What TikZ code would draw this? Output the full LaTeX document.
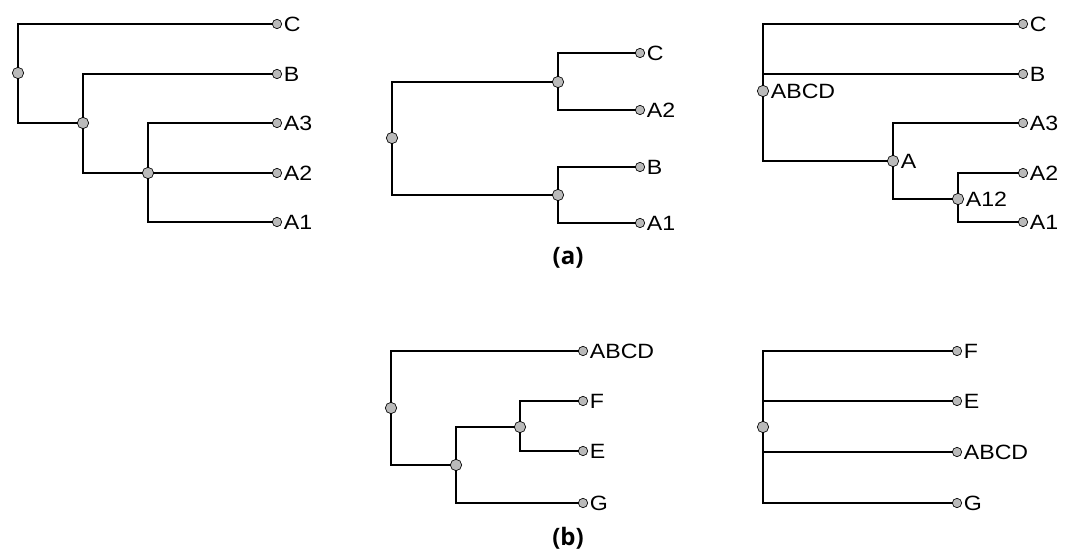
\documentclass[tikz,border=0pt]{standalone}
\usepackage{fontspec}
\setmainfont[FakeStretch=1.12]{Liberation Sans}
\newfontfamily\capfont{Open Sans}
\begin{document}
\begin{tikzpicture}[x=0.75pt,y=-0.75pt,
  every node/.style={font=\fontsize{15.5pt}{17pt}\selectfont},
  innode/.style={circle,draw=black,line width=0.5pt,fill=black!27,minimum size=8.5pt,inner sep=0pt},
  leafnode/.style={circle,draw=black,line width=0.5pt,fill=black!27,minimum size=7pt,inner sep=0pt},
  lab/.style={label={[inner sep=1.2pt,label distance=0pt]right:#1}},
  branch/.style={line width=1.5pt,line cap=rect},
  subcap/.style={font=\capfont\bfseries\fontsize{18pt}{20pt}\selectfont}]
\useasboundingbox (0,0) rectangle (1073,552);
% ---------- tree 1 ----------
\node[leafnode,lab=C] (a1C) at (277,24) {};
\node[leafnode,lab=B] (a1B) at (277,74) {};
\node[leafnode,lab=A3] (a1A3) at (277,123) {};
\node[leafnode,lab=A2] (a1A2) at (277,173) {};
\node[leafnode,lab=A1] (a1A1) at (277,222) {};
\node[innode] (a1r) at (18,73) {};
\node[innode] (a1n2) at (83,123) {};
\node[innode] (a1n3) at (148,173) {};
\draw[branch] (a1r) |- (a1C);
\draw[branch] (a1r) |- (a1n2);
\draw[branch] (a1n2) |- (a1B);
\draw[branch] (a1n2) |- (a1n3);
\draw[branch] (a1n3) |- (a1A3);
\draw[branch] (a1n3) -- (a1A2);
\draw[branch] (a1n3) |- (a1A1);
% ---------- tree 2 ----------
\node[leafnode,lab=C] (a2C) at (640,53) {};
\node[leafnode,lab=A2] (a2A2) at (640,110) {};
\node[leafnode,lab=B] (a2B) at (640,167) {};
\node[leafnode,lab=A1] (a2A1) at (640,223) {};
\node[innode] (a2r) at (392,138) {};
\node[innode] (a2u) at (558,82) {};
\node[innode] (a2l) at (558,195) {};
\draw[branch] (a2r) |- (a2u);
\draw[branch] (a2r) |- (a2l);
\draw[branch] (a2u) |- (a2C);
\draw[branch] (a2u) |- (a2A2);
\draw[branch] (a2l) |- (a2B);
\draw[branch] (a2l) |- (a2A1);
\node[subcap] (capa) at (568,258) {(a)};
% ---------- tree 3 ----------
\node[leafnode,lab=C] (a3C) at (1023,24) {};
\node[leafnode,lab=B] (a3B) at (1023,74) {};
\node[leafnode,lab=A3] (a3A3) at (1023,123) {};
\node[leafnode,lab=A2] (a3A2) at (1023,173) {};
\node[leafnode,lab=A1] (a3A1) at (1023,222) {};
\node[innode,lab=ABCD] (a3r) at (763,91) {};
\node[innode,lab=A] (a3A) at (893,161) {};
\node[innode,lab=A12] (a3A12) at (958,199) {};
\draw[branch] (a3r) |- (a3C);
\draw[branch] (a3r) |- (a3B);
\draw[branch] (a3r) |- (a3A);
\draw[branch] (a3A) |- (a3A3);
\draw[branch] (a3A) |- (a3A12);
\draw[branch] (a3A12) |- (a3A2);
\draw[branch] (a3A12) |- (a3A1);
% ---------- tree 4 ----------
\node[leafnode,lab=ABCD] (b1ABCD) at (583,351) {};
\node[leafnode,lab=F] (b1F) at (583,401) {};
\node[leafnode,lab=E] (b1E) at (583,451) {};
\node[leafnode,lab=G] (b1G) at (583,503) {};
\node[innode] (b1r) at (391,408) {};
\node[innode] (b1n) at (456,465) {};
\node[innode] (b1fe) at (520,427) {};
\draw[branch] (b1r) |- (b1ABCD);
\draw[branch] (b1r) |- (b1n);
\draw[branch] (b1n) |- (b1fe);
\draw[branch] (b1n) |- (b1G);
\draw[branch] (b1fe) |- (b1F);
\draw[branch] (b1fe) |- (b1E);
\node[subcap] (capb) at (568,538) {(b)};
% ---------- tree 5 ----------
\node[leafnode,lab=F] (b2F) at (957,351) {};
\node[leafnode,lab=E] (b2E) at (957,401) {};
\node[leafnode,lab=ABCD] (b2ABCD) at (957,452) {};
\node[leafnode,lab=G] (b2G) at (957,503) {};
\node[innode] (b2r) at (763,427) {};
\draw[branch] (b2r) |- (b2F);
\draw[branch] (b2r) |- (b2E);
\draw[branch] (b2r) |- (b2ABCD);
\draw[branch] (b2r) |- (b2G);
\end{tikzpicture}
\end{document}
